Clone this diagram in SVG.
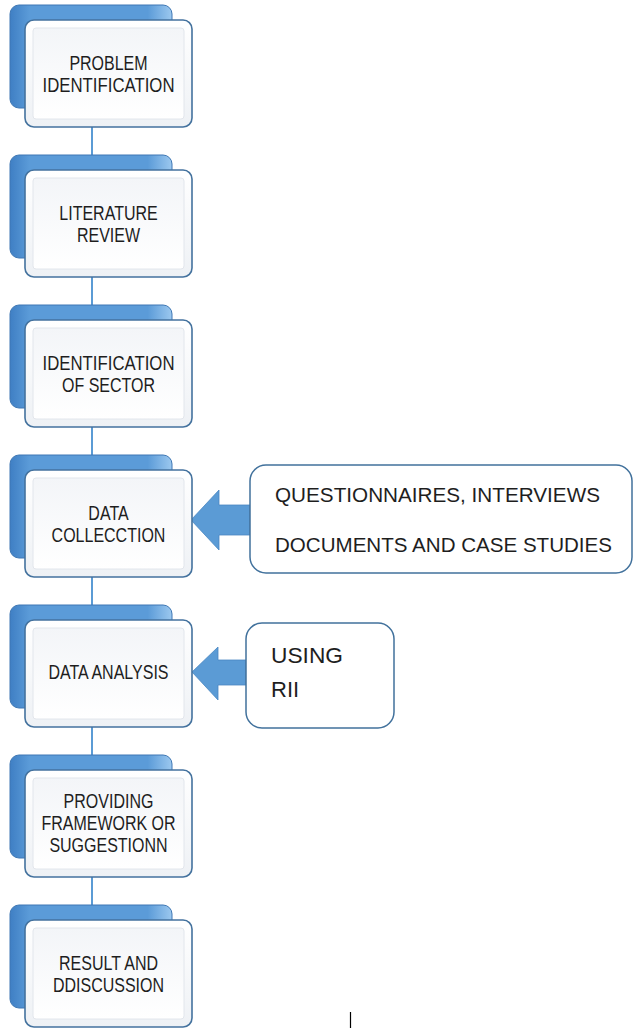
<svg xmlns="http://www.w3.org/2000/svg" width="634" height="1028" viewBox="0 0 634 1028">
<defs>
<linearGradient id="backG" x1="0" y1="0" x2="1" y2="0">
<stop offset="0" stop-color="#3f7fc4"/>
<stop offset="0.12" stop-color="#5b9bd8"/>
<stop offset="0.85" stop-color="#5b9bd8"/>
<stop offset="1" stop-color="#9cc8ef"/>
</linearGradient>
<linearGradient id="frontG" x1="0" y1="0" x2="0" y2="1">
<stop offset="0" stop-color="#ffffff"/>
<stop offset="1" stop-color="#eef1f5"/>
</linearGradient>
<linearGradient id="innerG" x1="0" y1="0" x2="0" y2="1">
<stop offset="0" stop-color="#f3f5f8"/>
<stop offset="1" stop-color="#ffffff"/>
</linearGradient>
<g id="stack">
<rect x="10" y="0" width="162" height="103" rx="9" fill="url(#backG)" stroke="#3e77b4" stroke-width="1"/>
<rect x="25" y="15" width="167" height="107" rx="9" fill="url(#frontG)" stroke="#44729e" stroke-width="1.6"/>
<rect x="33" y="23" width="151" height="91" rx="3" fill="url(#innerG)" stroke="#e2e6ec" stroke-width="1"/>
</g>
</defs>
<style>
.nt{font-family:"Liberation Sans",Arial,sans-serif;font-size:20px;fill:#1e1e1e;text-anchor:middle}
.st{font-family:"Liberation Sans",Arial,sans-serif;font-size:20px;fill:#1e1e1e}
.conn{stroke:#5b9bd5;stroke-width:2;fill:none}
.side{fill:#fff;stroke:#41719c;stroke-width:1.5}
.arr{fill:#5b9bd5;stroke:#4a87c2;stroke-width:0.8}
</style>
<g id="connectors">
<line class="conn" x1="92" y1="127" x2="92" y2="155"/>
<line class="conn" x1="92" y1="277" x2="92" y2="305"/>
<line class="conn" x1="92" y1="427" x2="92" y2="455"/>
<line class="conn" x1="92" y1="577" x2="92" y2="605"/>
<line class="conn" x1="92" y1="727" x2="92" y2="755"/>
<line class="conn" x1="92" y1="877" x2="92" y2="905"/>
<path class="arr" d="M191,520 L219,490 L219,505 L250,505 L250,535 L219,535 L219,550 Z"/>
<path class="arr" d="M192,672 L218,647 L218,660 L246,660 L246,685 L218,685 L218,700 Z"/>
</g>
<g id="n1"><use href="#stack" y="5"/>
<g transform="matrix(0.8,0,0,1,108.5,0)">
<text class="nt" x="0" y="70">PROBLEM</text>
<text class="nt" x="0" y="92" textLength="165" lengthAdjust="spacingAndGlyphs">IDENTIFICATION</text></g></g>
<g id="n2"><use href="#stack" y="155"/>
<g transform="matrix(0.8,0,0,1,108.5,0)">
<text class="nt" x="0" y="220">LITERATURE</text>
<text class="nt" x="0" y="242">REVIEW</text></g></g>
<g id="n3"><use href="#stack" y="305"/>
<g transform="matrix(0.8,0,0,1,108.5,0)">
<text class="nt" x="0" y="370" textLength="165" lengthAdjust="spacingAndGlyphs">IDENTIFICATION</text>
<text class="nt" x="0" y="392">OF SECTOR</text></g></g>
<g id="n4"><use href="#stack" y="455"/>
<g transform="matrix(0.8,0,0,1,108.5,0)">
<text class="nt" x="0" y="520">DATA</text>
<text class="nt" x="0" y="542">COLLECCTION</text></g></g>
<g id="n5"><use href="#stack" y="605"/>
<g transform="matrix(0.8,0,0,1,108.5,0)">
<text class="nt" x="0" y="679">DATA ANALYSIS</text></g></g>
<g id="n6"><use href="#stack" y="755"/>
<g transform="matrix(0.8,0,0,1,108.5,0)">
<text class="nt" x="0" y="808">PROVIDING</text>
<text class="nt" x="0" y="830">FRAMEWORK OR</text>
<text class="nt" x="0" y="852">SUGGESTIONN</text></g></g>
<g id="n7"><use href="#stack" y="905"/>
<g transform="matrix(0.8,0,0,1,108.5,0)">
<text class="nt" x="0" y="970">RESULT AND</text>
<text class="nt" x="0" y="992">DDISCUSSION</text></g></g>
<g id="s1"><rect class="side" x="250" y="465" width="382" height="108" rx="16"/>
<text class="st" x="275" y="502" textLength="325" lengthAdjust="spacingAndGlyphs">QUESTIONNAIRES, INTERVIEWS</text>
<text class="st" x="275" y="552" textLength="337" lengthAdjust="spacingAndGlyphs">DOCUMENTS AND CASE STUDIES</text></g>
<g id="s2"><rect class="side" x="246" y="623" width="148" height="105" rx="16"/>
<text class="st" x="271" y="663" font-size="22" textLength="72" lengthAdjust="spacingAndGlyphs" style="font-size:22px">USING</text>
<text class="st" x="271" y="697" style="font-size:22px">RII</text></g>
<line x1="350.5" y1="1012" x2="350.5" y2="1028" stroke="#000" stroke-width="1.2"/>
</svg>
